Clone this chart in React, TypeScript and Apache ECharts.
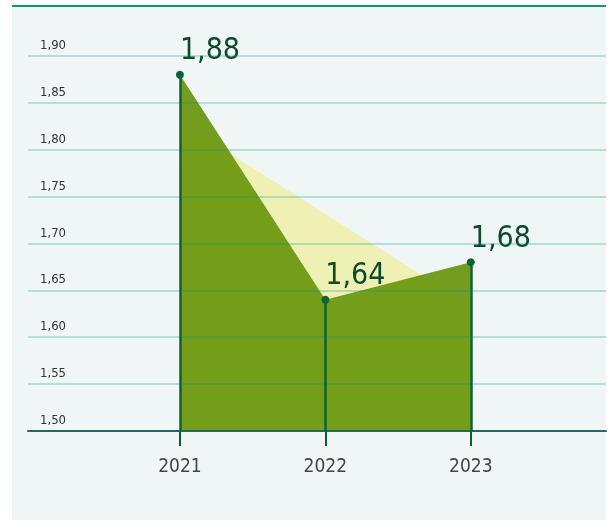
import React, { useEffect, useRef } from "react";
import * as echarts from "echarts";

const years = [2021, 2022, 2023];
const values = [1.88, 1.64, 1.68];
const trendYears = [2021, 2023];
const trendValues = [1.83, 1.633];
const yTicks = [1.5, 1.55, 1.6, 1.65, 1.7, 1.75, 1.8, 1.85, 1.9];

const FONT = "'Liberation Sans Narrow', 'DejaVu Sans Condensed', 'Liberation Sans', sans-serif";
const fmt = (v: number) => v.toFixed(2).replace(".", ",");

export default function App() {
  const ref = useRef<HTMLDivElement>(null);
  useEffect(() => {
    if (!ref.current) return;
    const chart = echarts.init(ref.current, null, { renderer: "svg" });
    const mainData = years.map((y, i) => [y, values[i]]);
    const trendData = trendYears.map((y, i) => [y, trendValues[i]]);
    const drops = years.map((y, i) => [
      { coord: [y, yTicks[0]] },
      { coord: [y, values[i]] },
    ]);
    chart.setOption({
      animation: false,
      graphic: [
        {
          type: "rect",
          z: -100,
          shape: { x: 12, y: 6, width: 594, height: 514 },
          style: { fill: "#f0f6f6" },
        },
        {
          type: "line",
          z: -99,
          shape: { x1: 12, y1: 6, x2: 606, y2: 6 },
          style: { stroke: "#10996c", lineWidth: 2 },
        },
      ],
      grid: { left: 28, right: 4, top: 56, bottom: 95, containLabel: false },
      xAxis: {
        type: "value",
        min: 2019.955,
        max: 2023.93,
        z: 3,
        splitLine: { show: false },
        axisLine: { show: true, lineStyle: { color: "#2a6464", width: 2 } },
        axisTick: {
          show: true,
          customValues: years,
          length: 15,
          lineStyle: { color: "#0b5e36", width: 2 },
        },
        axisLabel: {
          customValues: years,
          formatter: (v: number) => String(v),
          fontFamily: FONT,
          fontSize: 19,
          color: "#444",
          margin: 24,
        },
      },
      yAxis: {
        type: "value",
        min: 1.5,
        max: 1.9,
        interval: 0.05,
        z: 3,
        axisLine: { show: false },
        axisTick: { show: false },
        splitLine: { lineStyle: { color: "rgba(0,150,130,0.25)", width: 2 } },
        axisLabel: {
          inside: true,
          margin: 12,
          align: "left",
          verticalAlign: "bottom",
          padding: [0, 0, 5, 0],
          fontFamily: FONT,
          fontSize: 13,
          color: "#333",
          formatter: (v: number) => fmt(v),
        },
      },
      series: [
        {
          type: "line",
          data: trendData,
          z: 1,
          symbol: "none",
          silent: true,
          lineStyle: { width: 0 },
          areaStyle: { color: "#eef0b4", opacity: 1, origin: "start" },
        },
        {
          type: "line",
          data: mainData,
          z: 2,
          symbol: "circle",
          symbolSize: 8,
          itemStyle: { color: "#0a6436" },
          lineStyle: { width: 0 },
          areaStyle: { color: "rgb(102,148,8)", opacity: 0.9, origin: "start" },
          label: {
            show: true,
            position: "top",
            align: "left",
            distance: 7,
            fontFamily: FONT,
            fontSize: 30,
            color: "#0d4a2a",
            formatter: (p: any) => fmt(p.value[1]),
          },
          markLine: {
            silent: true,
            symbol: "none",
            label: { show: false },
            lineStyle: { color: "#0a6436", width: 2.5, type: "solid" },
            data: drops,
          },
        },
      ],
    });
    return () => chart.dispose();
  }, []);
  return (
    <div
      ref={ref}
      style={{ position: "fixed", left: 0, top: 0, width: 610, height: 526 }}
    />
  );
}
